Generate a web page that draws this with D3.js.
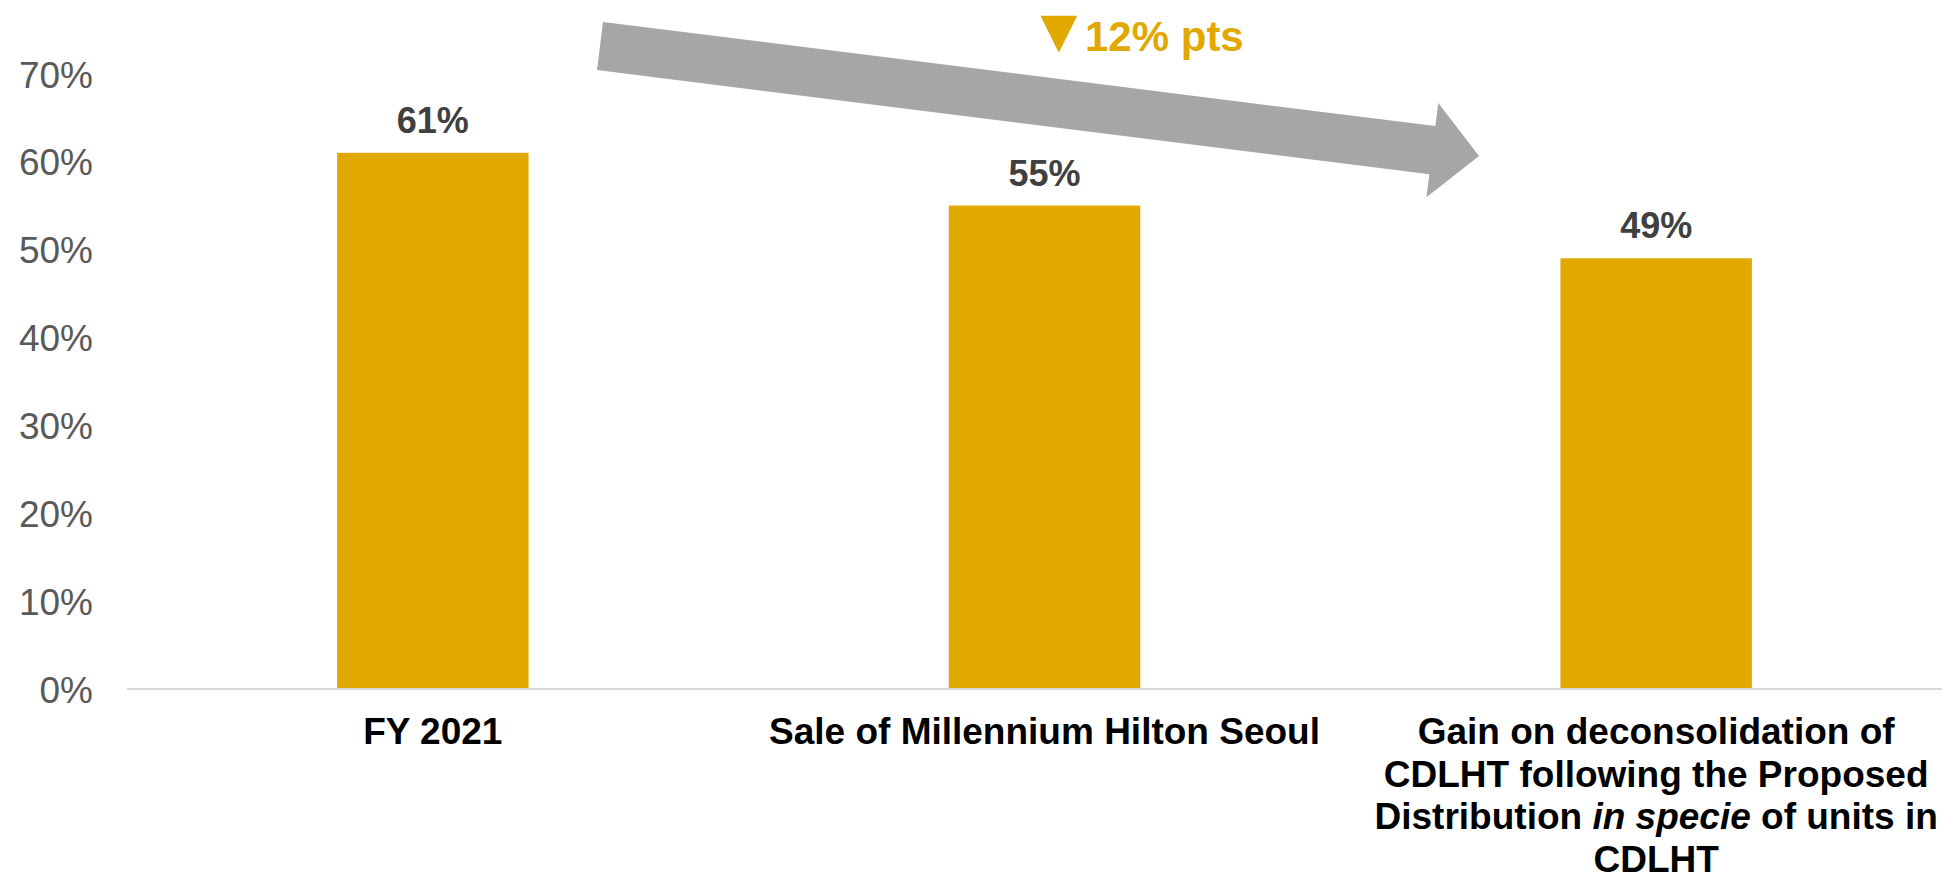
<!DOCTYPE html>
<html>
<head>
<meta charset="utf-8">
<script src="https://cdn.jsdelivr.net/npm/d3@7"></script>
<style>
  html, body { margin: 0; padding: 0; background: #ffffff; }
  svg { display: block; }
  text { font-family: "Liberation Sans", Arial, Helvetica, sans-serif; }
</style>
</head>
<body>
<svg id="chart" width="1942" height="880"></svg>
<script>
// Category labels: each entry is a list of lines, each line a list of [text, italic] runs
const categories = ["FY 2021", "Sale of Millennium Hilton Seoul", "Gain on deconsolidation"];
const categoryLines = [
  [[["FY 2021", false]]],
  [[["Sale of Millennium Hilton Seoul", false]]],
  [
    [["Gain on deconsolidation of", false]],
    [["CDLHT following the Proposed", false]],
    [["Distribution ", false], ["in specie", true], [" of units in", false]],
    [["CDLHT", false]]
  ]
];
const values = [0.61, 0.55, 0.49];
const yTicks = [0, 0.1, 0.2, 0.3, 0.4, 0.5, 0.6, 0.7];
const changeLabel = "12% pts";

const gold = "#e1a800";
const svg = d3.select("#chart");

const x = d3.scaleBand()
  .domain(categories)
  .range([127, 1962])
  .paddingInner(0.687)
  .paddingOuter(0.3435);

const y = d3.scaleLinear()
  .domain([0, 0.7])
  .range([689, 689 - 0.7 * 879]);

// Y tick labels (no axis line, no tick marks)
const yAxis = svg.append("g")
  .attr("transform", "translate(93,0)")
  .call(d3.axisLeft(y).tickValues(yTicks).tickFormat(d3.format(".0%")).tickSize(0).tickPadding(0));
yAxis.select(".domain").remove();
yAxis.selectAll("text")
  .attr("font-size", 37)
  .attr("fill", "#595959")
  .attr("font-family", "'Liberation Sans', Arial, sans-serif")
  .attr("dy", "0.36em");

// Bars
svg.append("g").selectAll("rect")
  .data(values)
  .join("rect")
  .attr("x", (d, i) => x(categories[i]))
  .attr("y", d => y(d))
  .attr("width", x.bandwidth())
  .attr("height", d => y(0) - y(d))
  .attr("fill", gold);

// Baseline
svg.append("line")
  .attr("x1", x.range()[0])
  .attr("x2", x.range()[1])
  .attr("y1", y(0))
  .attr("y2", y(0))
  .attr("stroke", "#d9d9d9")
  .attr("stroke-width", 2);

// Value labels
svg.append("g").selectAll("text")
  .data(values)
  .join("text")
  .attr("x", (d, i) => x(categories[i]) + x.bandwidth() / 2)
  .attr("y", d => y(d) - 20)
  .attr("text-anchor", "middle")
  .attr("font-size", 36)
  .attr("font-weight", "bold")
  .attr("fill", "#404040")
  .text(d => d3.format(".0%")(d));

// Category labels
const catG = svg.append("g");
categoryLines.forEach((lines, i) => {
  const t = catG.append("text")
    .attr("text-anchor", "middle")
    .attr("font-size", 37)
    .attr("font-weight", "bold")
    .attr("fill", "#000000");
  const cx = x(categories[i]) + x.bandwidth() / 2;
  lines.forEach((runs, li) => {
    const line = t.append("tspan")
      .attr("x", cx)
      .attr("y", 744 + li * 42.7);
    runs.forEach(([txt, italic]) => {
      line.append("tspan")
        .attr("font-style", italic ? "italic" : "normal")
        .text(txt);
    });
  });
});

// Trend arrow from the first bar region down to the last bar
const arrow = { tail: [600, 46], tip: [1479, 156], shaft: 48.5, headWidth: 95, headLength: 47 };
(function drawArrow(a) {
  const dx = a.tip[0] - a.tail[0], dy = a.tip[1] - a.tail[1];
  const len = Math.hypot(dx, dy);
  const u = [dx / len, dy / len];
  const n = [-u[1], u[0]];
  const base = [a.tip[0] - u[0] * a.headLength, a.tip[1] - u[1] * a.headLength];
  const off = (p, k) => [p[0] + n[0] * k, p[1] + n[1] * k];
  const pts = [
    off(a.tail, -a.shaft / 2),
    off(base, -a.shaft / 2),
    off(base, -a.headWidth / 2),
    a.tip,
    off(base, a.headWidth / 2),
    off(base, a.shaft / 2),
    off(a.tail, a.shaft / 2)
  ];
  svg.append("path")
    .attr("d", d3.line()(pts) + "Z")
    .attr("fill", "#a6a6a6");
})(arrow);

// Change annotation: down triangle + label
const tri = [[1040.5, 15.7], [1077.2, 15.7], [1058.8, 52.7]];
svg.append("path")
  .attr("d", d3.line()(tri) + "Z")
  .attr("fill", gold);
svg.append("text")
  .attr("x", 1085)
  .attr("y", 50.5)
  .attr("font-size", 42)
  .attr("font-weight", "bold")
  .attr("fill", gold)
  .text(changeLabel);
</script>
</body>
</html>
